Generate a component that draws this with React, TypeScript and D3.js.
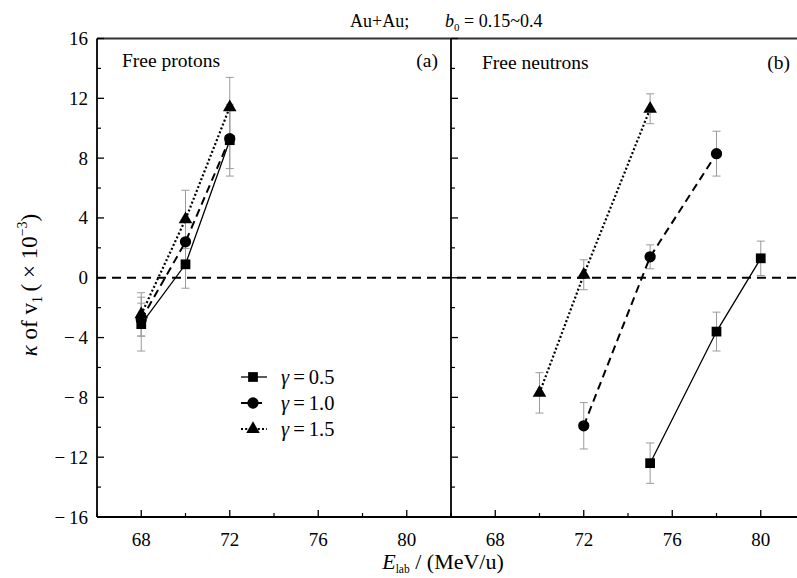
import React from "react";
import * as d3 from "d3";

// ---------- data ----------
const xMajorTicks = [68, 72, 76, 80];
const xMinorTicks = [66, 70, 74, 78, 82];
const yMajorTicks = [-16, -12, -8, -4, 0, 4, 8, 12, 16];
const yMinorTicks = [-14, -10, -6, -2, 2, 6, 10, 14];

const seriesLabels = ["0.5", "1.0", "1.5"];

// Panel (a): free protons
const protonE05 = [68, 70, 72];
const protonK05 = [-3.1, 0.9, 9.2];
const protonErr05 = [1.8, 1.6, 2.4];
const protonE10 = [68, 70, 72];
const protonK10 = [-2.8, 2.4, 9.3];
const protonErr10 = [1.1, 1.5, 2.0];
const protonE15 = [68, 70, 72];
const protonK15 = [-2.45, 3.9, 11.4];
const protonErr15 = [1.45, 1.95, 2.0];

// Panel (b): free neutrons
const neutronE05 = [75, 78, 80];
const neutronK05 = [-12.4, -3.6, 1.3];
const neutronErr05 = [1.35, 1.3, 1.15];
const neutronE10 = [72, 75, 78];
const neutronK10 = [-9.9, 1.4, 8.3];
const neutronErr10 = [1.55, 0.8, 1.5];
const neutronE15 = [70, 72, 75];
const neutronK15 = [-7.7, 0.2, 11.3];
const neutronErr15 = [1.35, 1.0, 1.0];

// ---------- layout ----------
const W = 797;
const H = 578;
const left = 97;
const mid = 451;
const top = 38.5;
const bottom = 517;
const panelW = mid - left;

const y = d3.scaleLinear().domain([-16, 16]).range([bottom, top]);
const xA = d3.scaleLinear().domain([66, 82]).range([left, mid]);
const xB = d3.scaleLinear().domain([66, 82]).range([mid, mid + panelW]);

const styles = [
  { symbol: d3.symbolSquare, size: 95, dash: null as string | null, width: 1.3 },
  { symbol: d3.symbolCircle, size: 100, dash: "8,5", width: 2 },
  { symbol: d3.symbolTriangle, size: 80, dash: "2,2.2", width: 2.2 },
];

const font = "'Liberation Serif', 'Times New Roman', serif";

type Series = { e: number[]; k: number[]; err: number[] };

const panelA: Series[] = [
  { e: protonE05, k: protonK05, err: protonErr05 },
  { e: protonE10, k: protonK10, err: protonErr10 },
  { e: protonE15, k: protonK15, err: protonErr15 },
];
const panelB: Series[] = [
  { e: neutronE05, k: neutronK05, err: neutronErr05 },
  { e: neutronE10, k: neutronK10, err: neutronErr10 },
  { e: neutronE15, k: neutronK15, err: neutronErr15 },
];

function Panel({ x, data }: { x: d3.ScaleLinear<number, number>; data: Series[] }) {
  const line = d3
    .line<[number, number]>()
    .x((d) => x(d[0]))
    .y((d) => y(d[1]));
  return (
    <g>
      {data.map((s, si) =>
        s.e.map((e, i) => {
          const cx = x(e);
          const y1 = y(s.k[i] + s.err[i]);
          const y2 = y(s.k[i] - s.err[i]);
          return (
            <g key={`eb${si}-${i}`} stroke="#9a9a9a" strokeWidth={1}>
              <line x1={cx} x2={cx} y1={y1} y2={y2} />
              <line x1={cx - 4} x2={cx + 4} y1={y1} y2={y1} />
              <line x1={cx - 4} x2={cx + 4} y1={y2} y2={y2} />
            </g>
          );
        })
      )}
      {data.map((s, si) => (
        <path
          key={`ln${si}`}
          d={line(s.e.map((e, i) => [e, s.k[i]] as [number, number])) || ""}
          fill="none"
          stroke="#000"
          strokeWidth={styles[si].width}
          strokeDasharray={styles[si].dash || undefined}
        />
      ))}
      {data.map((s, si) =>
        s.e.map((e, i) => (
          <path
            key={`mk${si}-${i}`}
            d={d3.symbol(styles[si].symbol, styles[si].size)() || ""}
            transform={`translate(${x(e)},${y(s.k[i])})`}
            fill="#000"
          />
        ))
      )}
    </g>
  );
}

function XTicks({ x }: { x: d3.ScaleLinear<number, number> }) {
  return (
    <g>
      {xMajorTicks.map((t) => (
        <g key={`M${t}`}>
          <line x1={x(t)} x2={x(t)} y1={bottom} y2={bottom - 7} stroke="#000" strokeWidth={1.3} />
          <text x={x(t)} y={546} textAnchor="middle" fontSize={19} fontFamily={font}>
            {t}
          </text>
        </g>
      ))}
      {xMinorTicks.map((t) => (
        <line key={`m${t}`} x1={x(t)} x2={x(t)} y1={bottom} y2={bottom - 4} stroke="#000" strokeWidth={1.2} />
      ))}
    </g>
  );
}

function YTicks({ x0 }: { x0: number }) {
  return (
    <g>
      {yMajorTicks.map((t) => (
        <line key={`M${t}`} x1={x0} x2={x0 + 7} y1={y(t)} y2={y(t)} stroke="#000" strokeWidth={1.3} />
      ))}
      {yMinorTicks.map((t) => (
        <line key={`m${t}`} x1={x0} x2={x0 + 4} y1={y(t)} y2={y(t)} stroke="#000" strokeWidth={1.2} />
      ))}
    </g>
  );
}

export default function App() {
  const legendRows = [377, 403, 429];
  return (
    <svg
      width={W}
      height={H}
      viewBox={`0 0 ${W} ${H}`}
      style={{ position: "absolute", left: 0, top: 0, background: "#fff" }}
    >
      <rect x={0} y={0} width={W} height={H} fill="#fff" />

      {/* title */}
      <text x={350} y={27} fontSize={18} fontFamily={font}>
        Au+Au;
      </text>
      <text x={445} y={27} fontSize={18} fontFamily={font}>
        <tspan fontStyle="italic">b</tspan>
        <tspan fontSize={11} dy={4}>0</tspan>
        <tspan dy={-4}> = 0.15~0.4</tspan>
      </text>

      {/* zero reference line */}
      <line x1={left} x2={W} y1={y(0)} y2={y(0)} stroke="#000" strokeWidth={1.8} strokeDasharray="9,6" />

      <Panel x={xA} data={panelA} />
      <Panel x={xB} data={panelB} />

      {/* frame */}
      <line x1={left} x2={W} y1={top} y2={top} stroke="#333" strokeWidth={2} />
      <line x1={left} x2={W} y1={bottom} y2={bottom} stroke="#000" strokeWidth={1.8} />
      <line x1={left} x2={left} y1={top} y2={bottom} stroke="#000" strokeWidth={1.8} />
      <line x1={mid} x2={mid} y1={top} y2={bottom} stroke="#000" strokeWidth={1.8} />

      <YTicks x0={left} />
      <YTicks x0={mid} />
      <XTicks x={xA} />
      <XTicks x={xB} />

      {/* y tick labels */}
      {yMajorTicks.map((t) => (
        <text key={t} x={88} y={y(t) + 6.5} textAnchor="end" fontSize={19} fontFamily={font}>
          {t < 0 ? `\u2212\u2009${Math.abs(t)}` : t}
        </text>
      ))}

      {/* panel labels */}
      <text x={122} y={67} fontSize={19.5} fontFamily={font}>Free protons</text>
      <text x={438} y={67} textAnchor="end" fontSize={19.5} fontFamily={font}>(a)</text>
      <text x={482} y={69} fontSize={19.5} fontFamily={font}>Free neutrons</text>
      <text x={790} y={69} textAnchor="end" fontSize={19.5} fontFamily={font}>(b)</text>

      {/* legend */}
      {seriesLabels.map((lab, i) => (
        <g key={lab}>
          <line
            x1={241}
            x2={267}
            y1={legendRows[i]}
            y2={legendRows[i]}
            stroke="#000"
            strokeWidth={styles[i].width}
            strokeDasharray={styles[i].dash || undefined}
          />
          <path
            d={d3.symbol(styles[i].symbol, styles[i].size)() || ""}
            transform={`translate(253,${legendRows[i]})`}
            fill="#000"
          />
          <text x={281} y={legendRows[i] + 7} fontSize={20.5} fontFamily={font}>
            <tspan fontStyle="italic">γ</tspan>
            {`\u2009=\u2009${lab}`}
          </text>
        </g>
      ))}

      {/* axis titles */}
      <text x={443} y={569} textAnchor="middle" fontSize={22} fontFamily={font}>
        <tspan fontStyle="italic">E</tspan>
        <tspan fontSize={11.5} dy={3.5}>lab</tspan>
        <tspan dy={-3.5}> / (MeV/u)</tspan>
      </text>
      <text
        transform={`translate(37,${285}) rotate(-90)`}
        textAnchor="middle"
        fontSize={23}
        fontFamily={font}
      >
        <tspan fontStyle="italic">κ</tspan>
        <tspan> of v</tspan>
        <tspan fontSize={14} dy={5}>1</tspan>
        <tspan dy={-5}>{"\u2009( \u00d7 10"}</tspan>
        <tspan fontSize={14} dy={-10}>−3</tspan>
        <tspan dy={10}>)</tspan>
      </text>
    </svg>
  );
}
